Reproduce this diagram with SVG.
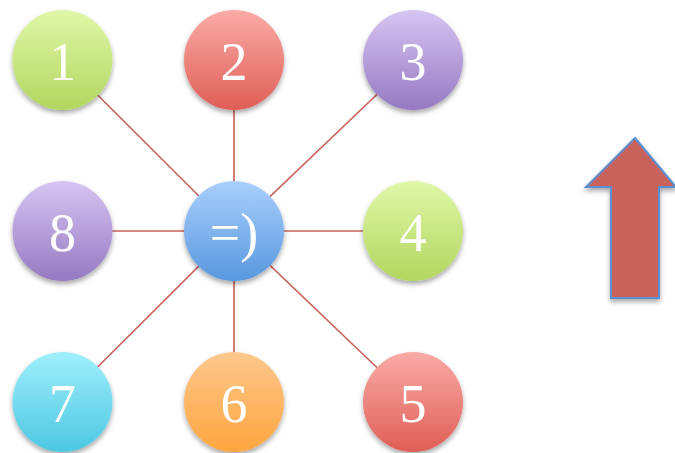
<svg xmlns="http://www.w3.org/2000/svg" width="675" height="453" viewBox="0 0 675 453">
<defs>
<style>
.lbl{font-family:"Liberation Serif","DejaVu Serif",serif;font-size:54px;fill:#ffffff;text-anchor:middle}
.con line{stroke:#c9605a;stroke-width:1.6}
</style>
<filter id="sh" x="-30%" y="-30%" width="160%" height="170%">
<feDropShadow dx="0" dy="3" stdDeviation="2.5" flood-color="#000" flood-opacity="0.35"/>
</filter>
<linearGradient id="gGreen" x1="0" y1="0" x2="0" y2="1"><stop offset="0" stop-color="#e0f7a8"/><stop offset="1" stop-color="#b2d65f"/></linearGradient>
<linearGradient id="gRed" x1="0" y1="0" x2="0" y2="1"><stop offset="0" stop-color="#faaba6"/><stop offset="1" stop-color="#df5e57"/></linearGradient>
<linearGradient id="gPurple" x1="0" y1="0" x2="0" y2="1"><stop offset="0" stop-color="#d6c5f2"/><stop offset="1" stop-color="#9679c2"/></linearGradient>
<linearGradient id="gBlue" x1="0" y1="0" x2="0" y2="1"><stop offset="0" stop-color="#aacffc"/><stop offset="1" stop-color="#5898de"/></linearGradient>
<linearGradient id="gCyan" x1="0" y1="0" x2="0" y2="1"><stop offset="0" stop-color="#a0effb"/><stop offset="1" stop-color="#4cc7e2"/></linearGradient>
<linearGradient id="gOrange" x1="0" y1="0" x2="0" y2="1"><stop offset="0" stop-color="#fdc88d"/><stop offset="1" stop-color="#fea53f"/></linearGradient>
</defs>
<rect width="675" height="453" fill="#ffffff"/>
<g id="connectors" class="con">
<line x1="234" y1="231" x2="62.5" y2="60"/>
<line x1="234" y1="231" x2="234" y2="60"/>
<line x1="234" y1="231" x2="413" y2="60"/>
<line x1="234" y1="231" x2="413" y2="231"/>
<line x1="234" y1="231" x2="413" y2="402"/>
<line x1="234" y1="231" x2="234" y2="402"/>
<line x1="234" y1="231" x2="62.5" y2="402"/>
<line x1="234" y1="231" x2="62.5" y2="231"/>
</g>
<g id="n1"><circle cx="62.5" cy="60" r="50" fill="url(#gGreen)" filter="url(#sh)"/><text class="lbl" x="62.5" y="80">1</text></g>
<g id="n2"><circle cx="234" cy="60" r="50" fill="url(#gRed)" filter="url(#sh)"/><text class="lbl" x="234" y="80">2</text></g>
<g id="n3"><circle cx="413" cy="60" r="50" fill="url(#gPurple)" filter="url(#sh)"/><text class="lbl" x="413" y="80">3</text></g>
<g id="n8"><circle cx="62.5" cy="231" r="50" fill="url(#gPurple)" filter="url(#sh)"/><text class="lbl" x="62.5" y="251">8</text></g>
<g id="center"><circle cx="234" cy="231" r="50" fill="url(#gBlue)" filter="url(#sh)"/><text class="lbl" x="234" y="251">=)</text></g>
<g id="n4"><circle cx="413" cy="231" r="50" fill="url(#gGreen)" filter="url(#sh)"/><text class="lbl" x="413" y="251">4</text></g>
<g id="n7"><circle cx="62.5" cy="402" r="50" fill="url(#gCyan)" filter="url(#sh)"/><text class="lbl" x="62.5" y="422">7</text></g>
<g id="n6"><circle cx="234" cy="402" r="50" fill="url(#gOrange)" filter="url(#sh)"/><text class="lbl" x="234" y="422">6</text></g>
<g id="n5"><circle cx="413" cy="402" r="50" fill="url(#gRed)" filter="url(#sh)"/><text class="lbl" x="413" y="422">5</text></g>
<g id="arrow"><polygon points="635,138 676,187 659,187 659,298 611,298 611,187 586,187" fill="#c9625c" stroke="#5a8fd0" stroke-width="2" stroke-linejoin="miter" filter="url(#sh)"/></g>
</svg>
